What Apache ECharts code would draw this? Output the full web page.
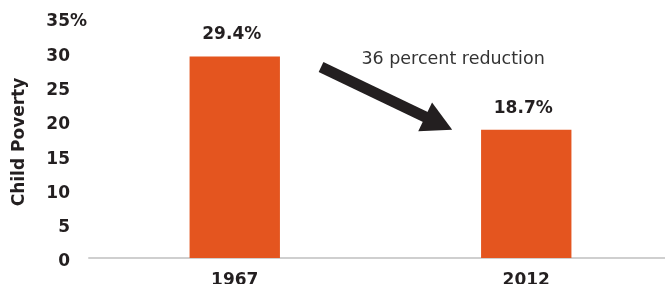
<!DOCTYPE html>
<html>
<head>
<meta charset="utf-8">
<script src="https://cdn.jsdelivr.net/npm/echarts@6/dist/echarts.min.js"></script>
<style>
  html, body { margin: 0; padding: 0; background: #fff; }
  #chart { width: 665px; height: 284px; }
</style>
</head>
<body>
<div id="chart"></div>
<script>
// data
const years = ['1967', '2012'];
const childPoverty = [29.4, 18.7];
const yMin = 0;
const yMax = 35;
const yStep = 5;

// annotation, in data units: [position along the year axis, percent]
const noteText = '36 percent reduction';
const notePos = [0.749, 28.9];
const arrowFrom = [0.296, 27.85];
const arrowTo = [0.746, 18.7];

const FONT = '"DejaVu Sans", sans-serif';
const INK = '#231f20';

let chart = echarts.init(document.getElementById('chart'));

let option = {
    animation: false,
    textStyle: { fontFamily: FONT },
    grid: {
        left: 89,
        width: 583, // runs a little past the right edge, as in the source
        top: 18,
        bottom: 26,
        containLabel: false,
        outerBoundsMode: 'none'
    },
    xAxis: [
        {
            type: 'category',
            data: years,
            axisTick: { show: false },
            axisLine: { lineStyle: { color: '#cfcfcf', width: 2 } },
            axisLabel: {
                margin: 14,
                color: INK,
                fontFamily: FONT,
                fontSize: 17,
                fontWeight: 'bold'
            }
        },
        {
            // hidden helper axis so the arrow can sit between the categories
            type: 'value',
            min: -0.5,
            max: 1.5,
            show: false
        }
    ],
    yAxis: {
        type: 'value',
        min: yMin,
        max: yMax,
        interval: yStep,
        splitLine: { show: false },
        axisLine: { show: false },
        axisTick: { show: false },
        name: 'Child Poverty',
        nameLocation: 'middle',
        nameGap: 61,
        nameTextStyle: {
            color: INK,
            fontFamily: FONT,
            fontSize: 17,
            fontWeight: 'bold',
            padding: [0, 0, 0, -8]
        },
        axisLabel: {
            margin: 2,
            padding: [8, 0, 0, 0], // labels sit a bit below their ticks
            formatter: function (v) {
                // the % only shows on the top tick, the others keep its room
                return v === yMax ? v + '{p|%}' : v + '{h|%}';
            },
            color: INK,
            fontFamily: FONT,
            fontSize: 17,
            fontWeight: 'bold',
            rich: {
                p: { color: INK, fontFamily: FONT, fontSize: 17, fontWeight: 'bold' },
                h: { color: 'rgba(0,0,0,0)', fontFamily: FONT, fontSize: 17, fontWeight: 'bold' }
            }
        }
    },
    series: [
        {
            name: 'Child Poverty',
            type: 'bar',
            data: childPoverty,
            barWidth: '31%',
            itemStyle: { color: '#e4551f' },
            label: {
                show: true,
                position: 'top',
                distance: 13,
                offset: [-3, 0],
                formatter: '{c}%',
                color: INK,
                fontFamily: FONT,
                fontSize: 17,
                fontWeight: 'bold'
            }
        }
    ]
};
chart.setOption(option);

// arrow + note, placed through the chart's own scales
function drawNote () {
    const finder = { xAxisIndex: 1, yAxisIndex: 0 };
    const a = chart.convertToPixel(finder, arrowFrom);
    const b = chart.convertToPixel(finder, arrowTo);
    const t = chart.convertToPixel(finder, notePos);

    const shaftW = 11;
    const headLen = 30;
    const headW = 32;
    const dx = b[0] - a[0];
    const dy = b[1] - a[1];
    const len = Math.sqrt(dx * dx + dy * dy);
    const ux = dx / len;
    const uy = dy / len;
    const nx = -uy;
    const ny = ux;
    const base = [b[0] - ux * headLen, b[1] - uy * headLen];
    const over = [base[0] + ux * 2, base[1] + uy * 2];

    chart.setOption({
        graphic: [
            {
                type: 'polygon',
                shape: {
                    points: [
                        [a[0] + nx * shaftW / 2, a[1] + ny * shaftW / 2],
                        [over[0] + nx * shaftW / 2, over[1] + ny * shaftW / 2],
                        [over[0] - nx * shaftW / 2, over[1] - ny * shaftW / 2],
                        [a[0] - nx * shaftW / 2, a[1] - ny * shaftW / 2]
                    ]
                },
                style: { fill: INK }
            },
            {
                type: 'polygon',
                shape: {
                    points: [
                        b,
                        [base[0] + nx * headW / 2, base[1] + ny * headW / 2],
                        [base[0] - nx * headW / 2, base[1] - ny * headW / 2]
                    ]
                },
                style: { fill: INK }
            },
            {
                type: 'text',
                x: t[0],
                y: t[1],
                style: {
                    text: noteText,
                    fill: '#333',
                    font: '17.5px ' + FONT,
                    align: 'center',
                    verticalAlign: 'middle'
                }
            }
        ]
    });
}
drawNote();
</script>
</body>
</html>
